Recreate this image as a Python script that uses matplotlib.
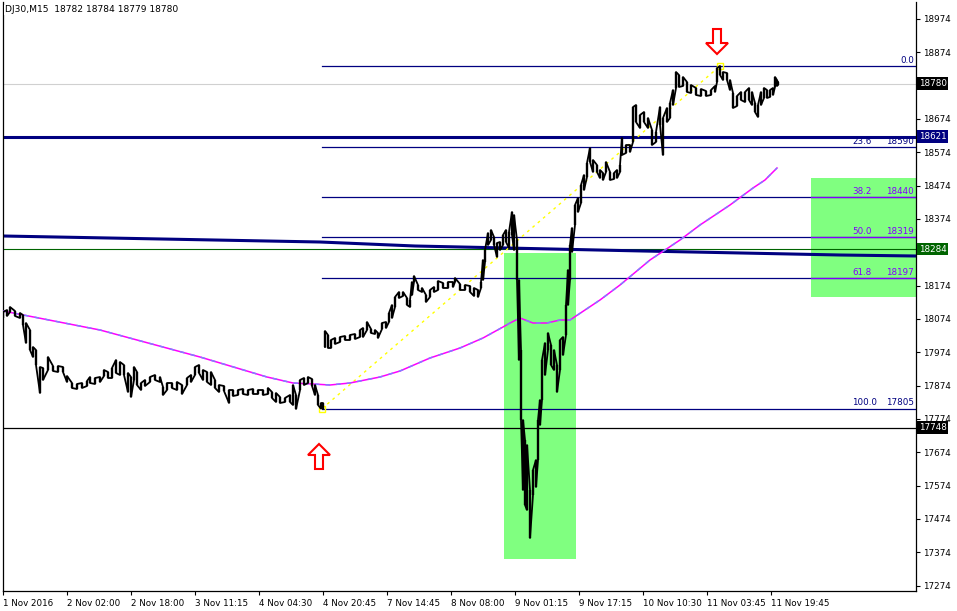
import matplotlib.pyplot as plt
from matplotlib.patches import Rectangle, Polygon
from matplotlib.transforms import blended_transform_factory

# DJ30 M15 price: bar index, high, low (one sample every few bars)
bars = [0, 4, 7, 12, 17, 20, 23, 27, 30, 33, 37, 40, 45, 50, 55, 60, 64, 69, 74, 79,
        84, 87, 92, 97, 101, 105, 109, 113, 117, 121, 125, 128, 131, 134, 138, 142, 147, 152, 157, 160,
        164, 169, 174, 179, 184, 188, 192, 196, 200, 204, 208, 212, 216, 221, 226, 230, 235, 240, 245, 250,
        255, 260, 265, 269, 273, 277, 282, 287, 290, 293, 297, 301, 305, 309, 312, 315, 318, 320,
        322, 325, 328, 332, 337, 342, 347, 352, 357, 360, 364, 368, 372, 375, 379, 383, 386, 389,
        392, 396, 400, 404, 407, 409, 411, 415, 419, 423, 427, 431, 435, 440, 445, 450, 452, 457,
        462, 467, 471, 475, 478, 480, 482, 485, 488, 491, 494, 497, 500, 503, 506, 509, 511, 514,
        516, 518, 520, 522, 524, 527, 530, 533, 535, 537, 539, 542, 545, 548, 551, 554, 557, 560,
        563, 565, 567, 569, 572, 575, 578, 581, 584, 587, 590, 594, 597, 600, 603, 607, 611, 614,
        617, 619, 623, 627, 630, 633, 637, 641, 645, 649, 653, 657, 660, 664, 667, 670, 673, 676,
        680, 684, 688, 693, 698, 703, 708, 712, 714, 717, 720, 724, 727, 730, 734, 738, 742, 746,
        749, 752, 755, 758, 761, 764, 767, 770, 772, 774, 775]
highs = [18095, 18101, 18110, 18098, 18092, 18086, 18062, 18041, 17990, 17981, 17930, 17927, 17960, 17933, 17933, 17930, 17903, 17882, 17879, 17882,
         17888, 17900, 17897, 17900, 17921, 17915, 17927, 17951, 17945, 17936, 17912, 17900, 17930, 17915, 17882, 17891, 17900, 17906, 17900, 17870,
         17882, 17882, 17885, 17876, 17897, 17906, 17930, 17936, 17921, 17915, 17915, 17891, 17876, 17873, 17861, 17861, 17861, 17864, 17861, 17864,
         17861, 17861, 17867, 17855, 17852, 17840, 17837, 17846, 17876, 17846, 17891, 17897, 17900, 17894, 17876, 17846, 17822, 17822,
         18038, 18026, 18011, 18017, 18020, 18023, 18026, 18029, 18041, 18047, 18065, 18044, 18041, 18032, 18062, 18065, 18092, 18116,
         18140, 18155, 18155, 18137, 18131, 18185, 18203, 18176, 18167, 18146, 18161, 18170, 18188, 18182, 18185, 18185, 18197, 18179,
         18176, 18173, 18167, 18161, 18185, 18251, 18281, 18332, 18341, 18320, 18302, 18305, 18326, 18341, 18335, 18395, 18386, 18311,
         18191, 17981, 17771, 17711, 17696, 17561, 17621, 17651, 17771, 17831, 17951, 18002, 18032, 17996, 17981, 17936, 18011, 18020,
         18116, 18221, 18296, 18347, 18416, 18437, 18476, 18506, 18542, 18587, 18551, 18536, 18521, 18512, 18545, 18515, 18512, 18521,
         18536, 18617, 18596, 18596, 18710, 18716, 18686, 18695, 18677, 18641, 18635, 18710, 18677, 18707, 18722, 18761, 18815, 18806,
         18800, 18785, 18776, 18767, 18764, 18758, 18761, 18773, 18827, 18833, 18815, 18812, 18791, 18752, 18743, 18755, 18755, 18767,
         18755, 18722, 18716, 18755, 18767, 18761, 18761, 18767, 18800, 18791, 18785]
lows = [18077, 18083, 18095, 18083, 18077, 18056, 18002, 17981, 17960, 17936, 17852, 17891, 17921, 17918, 17915, 17915, 17885, 17867, 17864, 17867,
        17873, 17882, 17879, 17885, 17903, 17897, 17897, 17912, 17906, 17906, 17855, 17840, 17891, 17876, 17861, 17873, 17885, 17891, 17885, 17846,
        17861, 17867, 17861, 17849, 17876, 17885, 17906, 17912, 17891, 17885, 17876, 17867, 17855, 17858, 17822, 17843, 17846, 17849, 17846, 17849,
        17849, 17846, 17849, 17837, 17825, 17822, 17825, 17825, 17816, 17804, 17861, 17876, 17882, 17873, 17846, 17816, 17805, 17805,
        17990, 17987, 17987, 17999, 18005, 18011, 18011, 18014, 18020, 18020, 18041, 18032, 18029, 18017, 18044, 18047, 18065, 18077,
        18110, 18137, 18143, 18116, 18110, 18146, 18185, 18161, 18155, 18125, 18140, 18155, 18161, 18167, 18167, 18170, 18185, 18161,
        18161, 18155, 18143, 18140, 18167, 18191, 18245, 18296, 18311, 18296, 18260, 18281, 18296, 18305, 18287, 18326, 18281, 18191,
        17951, 17771, 17561, 17516, 17501, 17417, 17546, 17570, 17651, 17756, 17831, 17906, 17981, 17936, 17921, 17855, 17921, 17966,
        18026, 18116, 18191, 18275, 18356, 18395, 18422, 18461, 18500, 18545, 18515, 18515, 18497, 18491, 18515, 18491, 18494, 18497,
        18515, 18566, 18572, 18575, 18605, 18665, 18647, 18665, 18647, 18596, 18605, 18656, 18566, 18665, 18677, 18716, 18767, 18770,
        18773, 18755, 18752, 18746, 18743, 18743, 18746, 18755, 18785, 18806, 18791, 18791, 18761, 18707, 18713, 18731, 18725, 18731,
        18716, 18695, 18680, 18716, 18737, 18737, 18740, 18746, 18770, 18773, 18776]
gap_bar = 321  # weekend gap, bars are not joined across it

# moving average (magenta / violet dashes)
ma_bars = [0, 97, 197, 264, 290, 310, 327, 347, 377, 397, 427, 457, 480, 500, 507, 517,
           530, 544, 557, 567, 597, 617, 647, 677, 697, 727, 750, 762, 774]
ma_vals = [18098, 18041, 17960, 17900, 17882, 17879, 17876, 17882, 17900, 17918, 17957, 17987, 18017, 18050, 18062, 18077,
           18062, 18062, 18071, 18071, 18131, 18176, 18251, 18311, 18356, 18416, 18467, 18491, 18527]

# slow moving average (thick navy)
slow_bars = [0, 317, 412, 504, 594, 640, 837, 913]
slow_vals = [18323, 18305, 18293, 18287, 18281, 18278, 18266, 18263]

# fibonacci retracement
fib_start, fib_end = 319, 717
fib_low, fib_high = 17805, 18833
fib_levels = ['0.0', '23.6', '38.2', '50.0', '61.8', '100.0']
fib_prices = [18833, 18590, 18440, 18319, 18197, 17805]

# horizontal lines and their price tags
bid = 18780
line_navy = 18621
line_green = 18284
line_black = 17748

# green boxes: bar from, bar to, price low, price high
boxes = [(501, 573, 17354, 18272), (808, 913, 18140, 18497)]

yticks = [17274 + 100 * i for i in range(18)]
hidden_ticks = [18774, 18274]  # covered by the price tags
xtick_bars = [64 * i for i in range(13)]
xtick_labels = ['1 Nov 2016', '2 Nov 02:00', '2 Nov 18:00', '3 Nov 11:15', '4 Nov 04:30', '4 Nov 20:45',
                '7 Nov 14:45', '8 Nov 08:00', '9 Nov 01:15', '9 Nov 17:15', '10 Nov 10:30',
                '11 Nov 03:45', '11 Nov 19:45']

W, H = 957, 611
fig = plt.figure(figsize=(W / 100, H / 100), dpi=100)
ax = fig.add_axes([3 / W, 20 / H, 913 / W, 589 / H])
ax.set_xlim(0, 913)
ax.set_ylim(17258, 19025)
plt.rcParams['font.family'] = 'DejaVu Sans'
fs = 6.3

# green boxes
for b0, b1, p0, p1 in boxes:
    ax.add_patch(Rectangle((b0, p0), b1 - b0, p1 - p0, fc='#80ff80', ec='none', zorder=1))

# full width lines
ax.axhline(bid, color='#d0d0d0', lw=0.8, zorder=2)
ax.axhline(line_navy, color='#000080', lw=2.2, zorder=2)
ax.axhline(line_green, color='#006400', lw=0.8, zorder=2)
ax.axhline(line_black, color='black', lw=0.9, zorder=2)
ax.plot(slow_bars, slow_vals, color='#000080', lw=2.2, zorder=2)

# fibo lines
b2 = boxes[1]
for lev, p in zip(fib_levels, fib_prices):
    ax.plot([fib_start, 913], [p, p], color='#000080', lw=0.9, zorder=2)
    inside = b2[2] <= p <= b2[3]
    col = '#8000ff' if inside else '#000080'
    if inside:
        ax.plot([b2[0], b2[1]], [p, p], color=col, lw=0.9, zorder=2)
    if lev == '0.0':
        ax.text(911, p + 4, lev, color=col, fontsize=fs, ha='right', va='bottom', zorder=5)
    else:
        ax.text(849, p + 4, lev, color=col, fontsize=fs, ha='left', va='bottom', zorder=5)
        ax.text(911, p + 4, str(p), color=col, fontsize=fs, ha='right', va='bottom', zorder=5)
ax.plot([fib_start, fib_end], [fib_low, fib_high], color='#ffff00', lw=1, ls=(0, (2, 3)), zorder=3)
ax.plot([fib_start, fib_end], [fib_low, fib_high], 's', ms=4, mfc='none', mec='#ffff00', mew=1, zorder=4)

# moving average
ax.plot(ma_bars, ma_vals, color='#ff00ff', lw=1.1, zorder=3)
ax.plot(ma_bars, ma_vals, color='#8080ff', lw=1.1, ls=(0, (3, 4)), zorder=3)

# price bars as a high/low zigzag
for part in ([i for i, b in enumerate(bars) if b < gap_bar], [i for i, b in enumerate(bars) if b > gap_bar]):
    xs, ys = [], []
    for k, i in enumerate(part):
        pair = (lows[i], highs[i]) if k % 2 == 0 else (highs[i], lows[i])
        xs += [bars[i], bars[i]]
        ys += list(pair)
    ax.plot(xs, ys, color='black', lw=1.3, zorder=4)
    ax.vlines([bars[i] for i in part], [lows[i] for i in part], [highs[i] for i in part],
              color='black', lw=1.7, zorder=4)


def hollow_arrow(bar, price, up):
    # shape in pixels: apex, head base 11 px away, shaft to 25 px
    s = 1 if up else -1
    pts = [(0, 0), (11, -11), (4, -11), (4, -25), (-4, -25), (-4, -11), (-11, -11)]
    ax.add_patch(Polygon([(bar + dx, price + s * dy * 3) for dx, dy in pts], closed=True,
                         fc='white', ec='red', lw=1.5, zorder=5))


hollow_arrow(fib_start - 3, fib_low - 106, True)
hollow_arrow(fib_end - 3, fib_high + 36, False)

# axes
ax.spines['top'].set_visible(False)
for side in ['left', 'right', 'bottom']:
    ax.spines[side].set_linewidth(0.9)
ax.yaxis.tick_right()
ax.set_yticks(yticks)
ax.set_yticklabels(['' if v in hidden_ticks else str(v) for v in yticks], fontsize=fs)
ax.set_xticks(xtick_bars)
ax.set_xticklabels(xtick_labels, fontsize=fs, ha='left')
ax.tick_params(axis='both', length=3, width=0.8, pad=2)
ax.tick_params(axis='x', pad=3)

tr = blended_transform_factory(ax.transAxes, ax.transData)
for price, bg in [(bid, 'black'), (line_navy, '#000080'), (line_green, '#006400'), (line_black, 'black')]:
    ax.text(1.003, price, str(price), transform=tr, color='white', fontsize=fs, ha='left', va='center',
            bbox=dict(boxstyle='square,pad=0.2', fc=bg, ec='none'), zorder=6, clip_on=False)

fig.text(5 / W, 1 - 10 / H, 'DJ30,M15  18782 18784 18779 18780', fontsize=6.6, ha='left', va='center',
         bbox=dict(boxstyle='square,pad=0.1', fc='white', ec='none'))

fig.savefig('out.png', dpi=100, facecolor='white')
